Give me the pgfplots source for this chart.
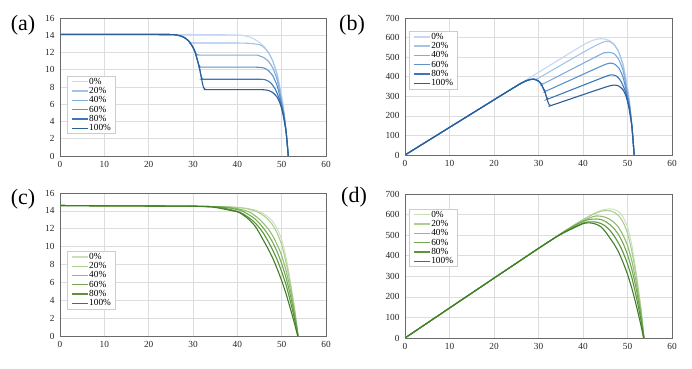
\documentclass[border=0pt]{standalone}
\usepackage{pgfplots}
\pgfplotsset{compat=1.18}
\usepackage{fontspec}
\setmainfont{Liberation Serif}
\definecolor{b0}{HTML}{C5D8EF}
\definecolor{b1}{HTML}{A3C3E8}
\definecolor{b2}{HTML}{82ACDD}
\definecolor{b3}{HTML}{5A93D0}
\definecolor{b4}{HTML}{3C77BA}
\definecolor{b5}{HTML}{2D5E98}
\definecolor{g0}{HTML}{C9DFB6}
\definecolor{g1}{HTML}{ADCF92}
\definecolor{g2}{HTML}{90BD70}
\definecolor{g3}{HTML}{74A851}
\definecolor{g4}{HTML}{5B943B}
\definecolor{g5}{HTML}{3F7D26}
\definecolor{gridc}{HTML}{DDDDDD}
\definecolor{framec}{HTML}{6A6A6A}
\pgfplotsset{
  panel/.style={
    scale only axis,
    xmin=0, xmax=60, xtick={0,10,...,60},
    grid=major, major grid style={gridc, line width=0.6pt},
    axis line style={framec, line width=0.8pt},
    major tick length=0pt,
    tick label style={font=\fontsize{9.3}{10}\selectfont, text=black!85},
    /pgf/number format/assume math mode=true,
    xticklabel style={yshift=-2pt},
    yticklabel style={xshift=-2pt},
    legend cell align=left,
    legend style={font=\fontsize{9.3}{10}\selectfont, draw=gray!40, line width=0.6pt,
      inner xsep=4pt, inner ysep=1pt, row sep=0.2pt, anchor=north west, fill=white,
      nodes={inner sep=0.7pt}},
    legend image code/.code={\draw[##1, line width=1.3pt] (0pt,0pt) -- (16pt,0pt);},
    every axis plot/.append style={line width=1.1pt, smooth, tension=0.35},
  }
}
\begin{document}
\begin{tikzpicture}
\path[use as bounding box] (0pt,0pt) rectangle (692pt,368pt);
\node[font=\fontsize{22}{24}\selectfont] at (23pt,343pt) {(a)};
\node[font=\fontsize{22}{24}\selectfont] at (352pt,343pt) {(b)};
\node[font=\fontsize{22}{24}\selectfont] at (23pt,169pt) {(c)};
\node[font=\fontsize{22}{24}\selectfont] at (354pt,171pt) {(d)};
% (a)
\begin{axis}[panel, at={(60pt,212pt)}, anchor=south west, width=266pt, height=138pt,
  ymin=0, ymax=16, ytick={0,2,...,16},
  legend style={at={(rel axis cs:0.026,0.58)}}]
\addplot[b0] coordinates {(0,14.1)(10,14.1)(20,14.1)(30,14.08)(38,14.05)(40,14.03)(41,14.0)(42,13.9)(43,13.75)(44,13.5)(45,13.15)(46,12.7)(47,12.0)(48,11.0)(49,9.5)(50,7.0)(50.5,5.3)(51,3.0)(51.5,0)};
\addplot[b1] coordinates {(0,14.1)(10,14.1)(20,14.1)(25,14.08)(26,14.05)(27,13.95)(28,13.75)(29,13.35)(29.3,13.2)(29.7,13.12)(30.5,13.1)(40,13.1)(43,13.05)(45,12.9)(46,12.6)(47,12.0)(48,11.0)(49,9.3)(50,6.6)(50.5,5.0)(51,2.8)(51.5,0)};
\addplot[b2] coordinates {(0,14.1)(10,14.1)(20,14.1)(25,14.08)(26,14.05)(27,13.95)(28,13.75)(29,13.35)(30,12.6)(30.5,12.05)(30.8,11.8)(31.3,11.72)(32,11.7)(44,11.7)(45,11.6)(46,11.4)(47,11.0)(48,10.2)(49,8.8)(50,6.3)(50.5,4.9)(51,2.8)(51.5,0)};
\addplot[b3] coordinates {(0,14.1)(10,14.1)(20,14.1)(25,14.08)(26,14.05)(27,13.95)(28,13.75)(29,13.35)(30,12.6)(30.5,12.0)(31,11.1)(31.3,10.6)(31.6,10.35)(32.2,10.3)(44,10.3)(46,10.2)(47,9.9)(48,9.3)(49,8.1)(50,6.0)(50.5,4.8)(51,2.8)(51.5,0)};
\addplot[b4] coordinates {(0,14.1)(10,14.1)(20,14.1)(25,14.08)(26,14.05)(27,13.95)(28,13.75)(29,13.35)(30,12.6)(30.5,12.0)(31,11.1)(31.5,10.1)(31.8,9.3)(32.1,8.95)(32.6,8.9)(45,8.9)(46.5,8.8)(47.5,8.5)(48.5,7.8)(49.5,6.6)(50,5.7)(50.5,4.6)(51,2.8)(51.5,0)};
\addplot[b5] coordinates {(0,14.1)(10,14.1)(20,14.1)(25,14.08)(26,14.05)(27,13.95)(28,13.75)(29,13.35)(30,12.6)(30.5,12.0)(31,11.1)(31.5,10.1)(31.8,9.3)(32.1,8.5)(32.4,7.9)(32.8,7.72)(33.5,7.7)(45,7.7)(47,7.6)(48,7.35)(49,6.8)(49.7,6.0)(50.3,4.8)(51,2.8)(51.5,0)};
\legend{0\%,20\%,40\%,60\%,80\%,100\%}
\end{axis}
% (b)
\begin{axis}[panel, at={(405pt,213pt)}, anchor=south west, width=267pt, height=137pt,
  ymin=0, ymax=700, ytick={0,100,...,700},
  legend style={at={(rel axis cs:0.015,0.905)}}]
\addplot[b0] coordinates {(0,0)(10,141)(20,282)(30,422.4)(40,562)(41,574)(42,583.8)(43,591.3)(44,594)(45,591.8)(46,584.2)(47,564)(48,528)(49,465.5)(50,350)(50.5,267.7)(51,153)(51.5,0)};
\addplot[b1] coordinates {(0,0)(10,141)(20,282)(25,352)(26,365.3)(27,376.7)(28,385)(29,387.2)(29.3,386.8)(29.7,389.7)(30.5,399.6)(40,524)(43,561.2)(45,580.5)(46,579.6)(47,564)(48,528)(49,455.7)(50,330)(50.5,252.5)(51,142.8)(51.5,0)};
\addplot[b2] coordinates {(0,0)(10,141)(20,282)(25,352)(26,365.3)(27,376.7)(28,385)(29,387.2)(30,378)(30.5,367.5)(30.8,363.4)(31.3,366.8)(32,374.4)(44,514.8)(45,522)(46,524.4)(47,517)(48,489.6)(49,431.2)(50,315)(50.5,247.5)(51,142.8)(51.5,0)};
\addplot[b3] coordinates {(0,0)(10,141)(20,282)(25,352)(26,365.3)(27,376.7)(28,385)(29,387.2)(30,378)(30.5,366)(31,344.1)(31.3,331.8)(31.6,327.1)(32.2,331.7)(44,453.2)(46,469.2)(47,465.3)(48,446.4)(49,396.9)(50,300)(50.5,242.4)(51,142.8)(51.5,0)};
\addplot[b4] coordinates {(0,0)(10,141)(20,282)(25,352)(26,365.3)(27,376.7)(28,385)(29,387.2)(30,378)(30.5,366)(31,344.1)(31.5,318.2)(31.8,295.7)(32.1,287.3)(32.6,290.1)(45,400.5)(46.5,409.2)(47.5,403.8)(48.5,378.3)(49.5,326.7)(50,285)(50.5,232.3)(51,142.8)(51.5,0)};
\addplot[b5] coordinates {(0,0)(10,141)(20,282)(25,352)(26,365.3)(27,376.7)(28,385)(29,387.2)(30,378)(30.5,366)(31,344.1)(31.5,318.2)(31.8,295.7)(32.1,272.9)(32.4,256)(32.8,253.2)(33.5,258)(45,346.5)(47,357.2)(48,352.8)(49,333.2)(49.7,298.2)(50.3,241.4)(51,142.8)(51.5,0)};
\legend{0\%,20\%,40\%,60\%,80\%,100\%}
\end{axis}
% (c)
\begin{axis}[panel, at={(60pt,32pt)}, anchor=south west, width=266pt, height=143pt,
  ymin=0, ymax=16, ytick={0,2,...,16},
  legend style={at={(rel axis cs:0.026,0.594)}}]
\addplot[g0, line width=0.9pt] coordinates {(0,14.6)(10,14.57)(20,14.55)(30,14.52)(34,14.48)(38,14.45)(40,14.4)(42,14.3)(44,14.1)(45,13.9)(46,13.65)(47,13.3)(48,12.8)(49,12.0)(50,10.8)(51,8.8)(52,6.0)(53,2.8)(53.7,0)};
\addplot[g1] coordinates {(0,14.6)(10,14.57)(20,14.55)(30,14.52)(34,14.48)(38,14.45)(40,14.38)(42,14.25)(44,14.0)(45,13.75)(46,13.45)(47,13.0)(48,12.4)(49,11.5)(50,10.2)(51,8.2)(52,5.7)(53,2.7)(53.7,0)};
\addplot[g2] coordinates {(0,14.6)(10,14.57)(20,14.55)(30,14.52)(34,14.48)(38,14.4)(40,14.25)(42,14.0)(43,13.8)(44,13.45)(45,13.05)(46,12.55)(47,11.95)(48,11.2)(49,10.2)(50,9.0)(51,7.3)(52,5.1)(53,2.4)(53.7,0)};
\addplot[g3] coordinates {(0,14.6)(10,14.57)(20,14.55)(30,14.52)(34,14.48)(36,14.45)(38,14.35)(40,14.15)(41,14.0)(42,13.75)(43,13.45)(44,13.1)(45,12.6)(46,12.0)(47,11.3)(48,10.45)(49,9.4)(50,8.1)(51,6.5)(52,4.5)(53,2.1)(53.7,0)};
\addplot[g4] coordinates {(0,14.6)(10,14.57)(20,14.55)(30,14.52)(34,14.48)(36,14.4)(38,14.2)(40,13.95)(41,13.75)(42,13.45)(43,13.1)(44,12.65)(45,12.1)(46,11.4)(47,10.55)(48,9.6)(49,8.5)(50,7.2)(51,5.7)(52,3.8)(53,1.7)(53.7,0)};
\addplot[g5] coordinates {(0,14.6)(10,14.57)(20,14.55)(30,14.52)(34,14.45)(36,14.3)(38,14.1)(40,13.9)(41,13.65)(42,13.3)(43,12.85)(44,12.3)(45,11.5)(46,10.6)(47,9.7)(48,8.7)(49,7.5)(50,6.2)(51,4.7)(52,3.0)(53,1.2)(53.6,0)};
\legend{0\%,20\%,40\%,60\%,80\%,100\%}
\end{axis}
% (d)
\begin{axis}[panel, at={(405pt,30pt)}, anchor=south west, width=267pt, height=144pt,
  ymin=0, ymax=700, ytick={0,100,...,700},
  legend style={at={(rel axis cs:0.015,0.896)}}]
\addplot[g0, line width=0.9pt] coordinates {(0,0)(10,145.7)(20,291)(30,435.6)(34,492.3)(38,549.1)(40,576)(42,600.6)(44,620.4)(45,625.5)(46,627.9)(47,625.1)(48,614.4)(49,588)(50,540)(51,448.8)(52,312)(53,148.4)(53.7,0)};
\addplot[g1] coordinates {(0,0)(10,145.7)(20,291)(30,435.6)(34,492.3)(38,549.1)(40,575.2)(42,598.5)(44,616)(45,618.8)(46,618.7)(47,611)(48,595.2)(49,563.5)(50,510)(51,418.2)(52,296.4)(53,143.1)(53.7,0)};
\addplot[g2] coordinates {(0,0)(10,145.7)(20,291)(30,435.6)(34,492.3)(38,547.2)(40,570)(42,588)(43,593.4)(44,591.8)(45,587.3)(46,577.3)(47,561.7)(48,537.6)(49,499.8)(50,450)(51,372.3)(52,265.2)(53,127.2)(53.7,0)};
\addplot[g3] coordinates {(0,0)(10,145.7)(20,291)(30,435.6)(34,492.3)(36,520.2)(38,545.3)(40,566)(41,574)(42,577.5)(43,578.4)(44,576.4)(45,567)(46,552)(47,531.1)(48,501.6)(49,460.6)(50,405)(51,331.5)(52,234)(53,111.3)(53.7,0)};
\addplot[g4] coordinates {(0,0)(10,145.7)(20,291)(30,435.6)(34,492.3)(36,518.4)(38,539.6)(40,558)(41,563.8)(42,564.9)(43,563.3)(44,556.6)(45,544.5)(46,524.4)(47,495.9)(48,460.8)(49,416.5)(50,360)(51,290.7)(52,197.6)(53,90.1)(53.7,0)};
\addplot[g5] coordinates {(0,0)(10,145.7)(20,291)(30,435.6)(34,491.3)(36,514.8)(38,535.8)(40,556)(41,559.7)(42,558.6)(43,552.6)(44,541.2)(45,517.5)(46,487.6)(47,455.9)(48,417.6)(49,367.5)(50,310)(51,239.7)(52,156)(53,63.6)(53.6,0)};
\legend{0\%,20\%,40\%,60\%,80\%,100\%}
\end{axis}
\end{tikzpicture}
\end{document}
